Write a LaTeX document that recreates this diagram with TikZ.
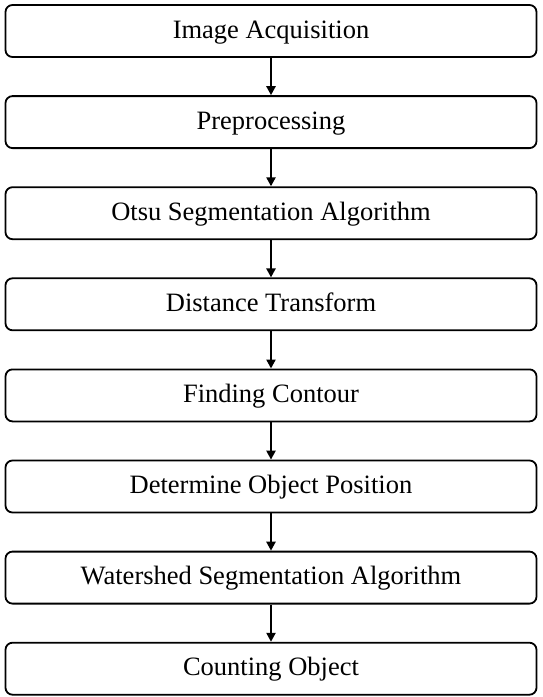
\documentclass[tikz,border=0pt]{standalone}
\usepackage{fontspec}
\setmainfont{Liberation Serif}
\usetikzlibrary{positioning,arrows.meta}

\tikzset{
  stepbox/.style={draw, line width=1.8pt, rounded corners=7pt, inner sep=0pt,
    text height=17pt, text depth=3pt,
    minimum width=531pt, minimum height=52pt, font=\fontsize{26.5}{30}\selectfont},
  flow/.style={-{Triangle[length=9pt,width=9pt]}, line width=2.6pt}
}

\begin{document}
\begin{tikzpicture}[node distance=37.3pt]
  \useasboundingbox (0,0) rectangle (542pt,-697pt);

  % processing steps
  \node[stepbox] (acq) at (271pt,-31pt) {Image Acquisition};
  \node[stepbox, below=of acq] (pre) {Preprocessing};
  \node[stepbox, below=of pre] (otsu) {Otsu Segmentation Algorithm};
  \node[stepbox, below=of otsu] (dist) {Distance Transform};
  \node[stepbox, below=of dist] (cont) {Finding Contour};
  \node[stepbox, below=of cont] (pos) {Determine Object Position};
  \node[stepbox, below=of pos] (water) {Watershed Segmentation Algorithm};
  \node[stepbox, below=of water] (count) {Counting Object};

  % arrows
  \draw[flow] (acq) -- (pre);
  \draw[flow] (pre) -- (otsu);
  \draw[flow] (otsu) -- (dist);
  \draw[flow] (dist) -- (cont);
  \draw[flow] (cont) -- (pos);
  \draw[flow] (pos) -- (water);
  \draw[flow] (water) -- (count);
\end{tikzpicture}
\end{document}
